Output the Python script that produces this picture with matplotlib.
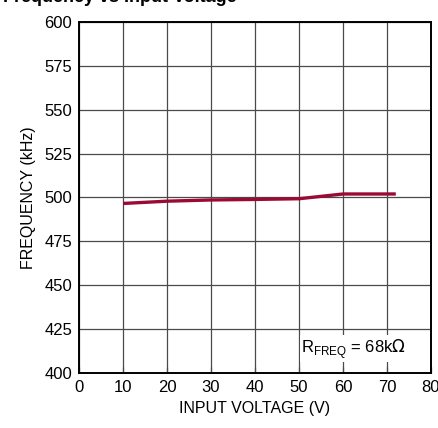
import matplotlib
matplotlib.use("Agg")
import matplotlib.pyplot as plt
from matplotlib import font_manager

# font: narrow sans if we have it
names = set(f.name for f in font_manager.fontManager.ttflist)
if "Liberation Sans Narrow" in names:
    plt.rcParams['font.family'] = ['Liberation Sans Narrow', 'DejaVu Sans']
else:
    plt.rcParams['font.family'] = ['Liberation Sans', 'DejaVu Sans']

# data
vin = [10, 20, 30, 40, 50, 60, 70, 72]
freq = [496.6, 497.9, 498.6, 498.9, 499.3, 502.0, 502.0, 502.0]
xticks = [0, 10, 20, 30, 40, 50, 60, 70, 80]
yticks = [400, 425, 450, 475, 500, 525, 550, 575, 600]

fig = plt.figure(figsize=(4.39, 4.28), dpi=100)
ax = fig.add_axes([79 / 439, 1 - 373 / 428, 352 / 439, 351 / 428])

ax.plot(vin, freq, color='#9b0a35', lw=2.4, solid_capstyle='butt')

ax.set_xlim(0, 80)
ax.set_ylim(400, 600)
ax.set_xticks(xticks)
ax.set_yticks(yticks)
ax.grid(True, color='#4a4a4a', lw=0.9)
ax.set_axisbelow(True)
ax.tick_params(direction='in', length=0, labelsize=12, pad=5)
ax.tick_params(axis='x', length=4, width=0.9, color='#4a4a4a', pad=5)
for s in ax.spines.values():
    s.set_linewidth(1.4)
    s.set_color('black')

ax.set_xlabel('INPUT VOLTAGE (V)', fontsize=11.5, labelpad=4)
ax.set_ylabel('FREQUENCY (kHz)', fontsize=11.5, labelpad=6)

ax.text(0.93, 0.035, r'R$_{\mathregular{FREQ}}$ = 68k$\Omega$', transform=ax.transAxes,
        ha='right', va='bottom', fontsize=12,
        bbox=dict(facecolor='white', edgecolor='none', pad=1))

# title, cut off at the top of the image
fig.text(237 / 439, 1 - 2.5 / 428, 'Frequency vs Input Voltage', ha='right', va='baseline',
         fontsize=13, fontweight='bold')

fig.savefig('out.png', dpi=100)
